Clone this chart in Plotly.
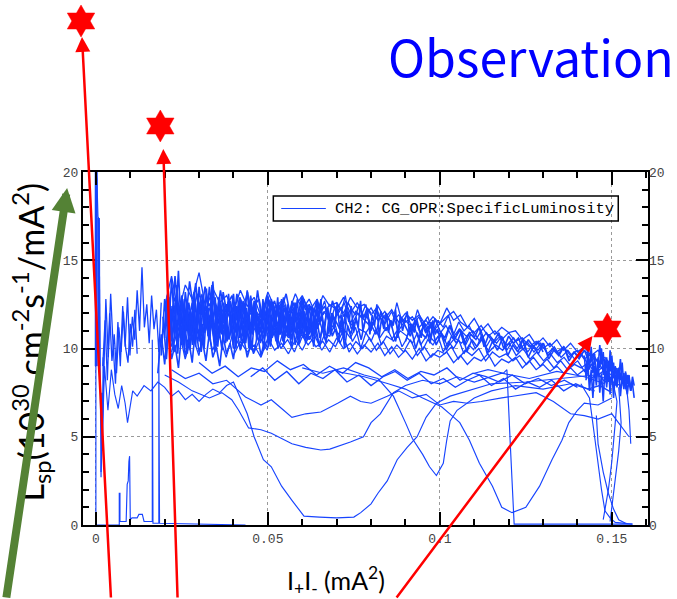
import numpy as np
import plotly.graph_objects as go

# ---------------- data: specific luminosity vs I+I- ----------------
# Noisy upper band, sampled runs: (start, end) in mA^2 and the values
RUN_A_SPAN = (0.020, 0.152)
RUN_A = [12.4, 14.1, 12.0, 13.6, 12.8, 14.3, 12.2, 13.4, 12.6, 13.0,
         12.1, 13.3, 12.4, 12.9, 11.8, 13.2, 12.3, 12.7, 12.0, 13.1,
         12.2, 12.8, 11.9, 13.0, 12.4, 12.6, 12.0, 12.9, 12.3, 12.5,
         11.9, 12.4, 11.7, 12.2, 11.5, 12.0, 11.6, 11.9, 11.3, 11.8,
         11.4, 12.3, 11.6, 11.9, 11.2, 11.7, 11.0, 11.4, 10.8, 11.2,
         10.9, 11.0, 10.5, 10.8, 10.2, 10.6, 10.1, 10.5, 9.9, 10.3,
         9.8, 10.1, 9.6, 9.9, 9.3, 9.0, 8.7]
RUN_B_SPAN = (0.021, 0.151)
RUN_B = [11.0, 12.9, 10.6, 12.4, 11.3, 13.1, 10.9, 12.2, 11.5, 12.8,
         11.2, 12.5, 10.9, 12.1, 11.6, 12.7, 11.0, 12.3, 11.4, 12.0,
         11.7, 12.4, 11.1, 12.1, 11.5, 11.9, 12.6, 11.3, 12.0, 11.6,
         11.2, 11.9, 11.4, 12.1, 11.0, 11.6, 11.2, 11.8, 10.9, 11.3,
         10.8, 11.3, 10.6, 11.1, 10.7, 11.0, 10.4, 10.9, 10.3, 10.7,
         10.2, 10.6, 10.0, 10.4, 9.8, 10.3, 9.7, 10.1, 9.5, 9.9,
         9.4, 9.7, 9.1, 9.5, 8.9, 8.6, 8.4]
RUN_C_SPAN = (0.019, 0.150)
RUN_C = [10.5, 12.0, 9.8, 11.6, 10.2, 12.3, 10.6, 11.9, 10.1, 11.4,
         10.7, 11.8, 10.3, 11.5, 10.9, 12.0, 10.5, 11.2, 10.8, 11.7,
         10.6, 11.4, 10.9, 11.8, 10.5, 11.3, 10.8, 11.6, 10.4, 11.1,
         10.9, 11.5, 10.6, 11.2, 10.4, 11.0, 10.7, 11.3, 10.2, 10.8,
         10.4, 10.9, 10.1, 10.6, 10.3, 10.8, 10.0, 10.5, 9.8, 10.2,
         9.9, 10.3, 9.6, 10.0, 9.4, 9.8, 9.3, 9.7, 9.2, 9.5,
         9.0, 9.3, 8.7, 9.1, 8.5, 8.8, 8.2]
RUN_D_SPAN = (0.022, 0.153)
RUN_D = [9.8, 11.2, 9.4, 10.8, 9.6, 11.5, 9.9, 10.7, 9.5, 10.9,
         10.1, 11.0, 9.7, 10.6, 9.9, 11.2, 10.0, 10.5, 9.8, 10.8,
         10.2, 10.7, 9.9, 10.5, 10.1, 10.9, 9.8, 10.4, 10.0, 10.6,
         9.9, 10.4, 9.7, 10.2, 9.8, 10.5, 9.6, 10.1, 9.5, 9.9,
         9.7, 10.1, 9.4, 9.9, 9.6, 10.0, 9.3, 9.8, 9.5, 9.7,
         9.3, 9.6, 9.1, 9.5, 9.0, 9.4, 8.9, 9.3, 8.8, 9.1,
         8.9, 9.2, 8.6, 8.9, 8.3, 8.0, 7.9]
RUN_E_SPAN = (0.030, 0.152)
RUN_E = [12.6, 11.4, 13.0, 11.9, 12.5, 11.6, 12.8, 11.7, 12.3, 11.5,
         12.9, 12.0, 12.6, 11.8, 12.4, 13.0, 12.1, 12.7, 11.9, 12.5,
         12.2, 12.9, 12.0, 12.6, 11.8, 12.3, 11.6, 12.1, 11.4, 11.9,
         11.5, 11.8, 11.2, 11.6, 11.0, 11.4, 11.8, 12.1, 11.5, 11.2,
         10.9, 11.3, 10.7, 11.0, 10.5, 10.9, 10.4, 10.6, 10.1, 10.4,
         10.0, 10.3, 9.8, 10.1, 9.6, 9.9, 9.4, 9.7, 9.2, 9.5,
         9.0, 8.8]
RUN_F_SPAN = (0.040, 0.150)
RUN_F = [9.6, 10.4, 9.8, 10.2, 9.5, 10.6, 9.9, 10.3, 9.7, 10.5,
         9.9, 10.7, 10.1, 10.4, 9.8, 10.6, 10.0, 10.3, 9.7, 10.2,
         9.8, 10.3, 9.6, 10.1, 9.5, 9.9, 9.4, 10.0, 9.3, 9.7,
         9.5, 9.8, 9.2, 9.6, 9.1, 9.5, 9.3, 9.7, 9.0, 9.4,
         9.2, 9.5, 8.9, 9.3, 8.8, 9.1, 8.7, 9.0, 8.6, 8.9,
         8.5, 8.8, 8.3, 8.6, 8.1, 8.4]

# Early part of the fills, finer sampling
EARLY_1_SPAN = (0.019, 0.065)
EARLY_1 = [9.6, 12.8, 10.4, 13.9, 11.1, 14.4, 10.2, 13.2, 11.5, 12.6,
           10.1, 13.5, 11.8, 12.4, 10.6, 13.8, 11.2, 12.9, 10.5, 12.2,
           11.7, 13.1, 10.8, 12.5, 11.4, 13.3, 10.9, 12.7, 11.6, 12.0,
           10.7, 13.0, 11.3, 12.3, 10.6, 12.8, 11.5, 12.1, 10.9, 12.6,
           11.2, 12.9, 11.0, 12.4, 10.8, 12.2, 11.4]
EARLY_2_SPAN = (0.0195, 0.066)
EARLY_2 = [11.8, 9.4, 12.3, 9.9, 13.0, 10.6, 12.1, 9.7, 11.9, 10.3,
           12.7, 9.8, 11.6, 10.9, 12.4, 10.2, 11.3, 9.9, 12.0, 10.5,
           11.8, 10.0, 12.6, 10.7, 11.5, 10.1, 12.2, 10.8, 11.7, 9.9,
           12.3, 10.4, 11.6, 10.2, 12.5, 10.6, 11.4, 10.0, 11.9, 10.5,
           12.1, 10.3, 11.7, 10.6, 11.2, 10.1, 11.5]
EARLY_3_SPAN = (0.021, 0.060)
EARLY_3 = [13.4, 11.0, 14.1, 11.9, 13.0, 10.8, 12.6, 11.4, 13.7, 12.0,
           12.9, 11.3, 13.5, 11.8, 12.4, 11.1, 13.2, 12.1, 12.7, 11.5,
           13.1, 11.7, 12.5, 11.0, 12.9, 11.6, 13.3, 11.9, 12.2, 11.4,
           12.8, 11.2, 12.6, 11.8, 12.3, 11.0, 12.7, 11.5, 12.1, 11.3]
EARLY_4_SPAN = (0.018, 0.050)
EARLY_4 = [8.6, 10.8, 9.1, 11.5, 9.4, 10.2, 8.9, 11.0, 9.6, 10.5,
           9.2, 11.3, 9.8, 10.4, 9.3, 10.9, 9.5, 10.1, 9.0, 10.7,
           9.7, 10.3, 9.4, 11.1, 9.9, 10.6, 9.5, 10.2, 9.8, 10.8,
           9.6, 10.4, 10.0]

# Densest stretch of the band
DENSE_1_SPAN = (0.020, 0.070)
DENSE_1 = [11.2, 13.0, 10.3, 12.4, 10.9, 13.6, 11.5, 10.2, 12.8, 11.0,
           12.1, 10.6, 13.2, 11.7, 10.4, 12.5, 11.3, 13.4, 10.8, 12.0,
           11.6, 10.5, 12.9, 11.1, 12.3, 10.7, 13.1, 11.4, 12.6, 10.9,
           11.8, 12.7, 10.6, 12.2, 11.3, 13.0, 10.8, 12.4, 11.5, 10.9,
           12.8, 11.2, 12.0, 10.7, 12.6, 11.4, 12.9, 10.8, 11.9, 11.1,
           12.5, 10.6, 12.1, 11.6, 12.8, 10.9, 12.2, 11.3, 11.8, 10.8,
           12.4, 11.0, 12.7, 11.5, 12.0, 10.9, 12.3, 11.4, 11.9, 11.1, 12.1]
DENSE_2_SPAN = (0.022, 0.075)
DENSE_2 = [10.1, 11.8, 9.7, 12.2, 10.5, 11.4, 9.9, 12.6, 10.8, 11.1,
           10.2, 12.0, 10.6, 11.7, 9.8, 12.3, 10.9, 11.3, 10.4, 11.9,
           10.0, 12.4, 10.7, 11.5, 10.3, 11.8, 9.9, 12.1, 10.8, 11.2,
           10.5, 11.9, 10.1, 11.6, 10.9, 12.0, 10.4, 11.3, 10.7, 11.8,
           10.2, 11.5, 10.8, 12.1, 10.5, 11.4, 10.1, 11.7, 10.6, 11.2,
           10.3, 11.9, 10.7, 11.1, 10.4, 11.6, 10.0, 11.3, 10.8, 11.5]
DENSE_3_SPAN = (0.025, 0.080)
DENSE_3 = [12.9, 11.6, 13.8, 12.2, 13.1, 11.9, 13.5, 12.4, 12.8, 11.8,
           13.3, 12.0, 12.6, 13.0, 11.7, 12.9, 12.3, 13.2, 11.9, 12.5,
           12.8, 11.6, 13.0, 12.2, 12.7, 11.8, 12.4, 13.1, 12.0, 12.6,
           11.7, 12.9, 12.2, 12.5, 11.9, 12.8, 12.1, 12.4, 11.6, 12.7,
           12.0, 12.3, 11.8, 12.6, 12.2, 11.9, 12.5, 11.7, 12.3, 12.0]
DENSE_4_SPAN = (0.060, 0.130)
DENSE_4 = [11.9, 10.8, 12.3, 11.2, 11.7, 10.6, 12.0, 11.4, 10.9, 12.2,
           11.1, 11.6, 10.5, 11.9, 11.3, 10.8, 12.1, 11.0, 11.5, 10.4,
           11.8, 11.2, 10.7, 11.6, 10.9, 11.4, 10.3, 11.7, 11.0, 10.6,
           11.3, 10.5, 11.1, 10.2, 10.9, 10.6, 11.2, 10.1, 10.8, 10.4,
           10.9, 10.0, 10.7, 10.3, 10.6, 9.9, 10.5, 10.1, 10.4, 9.8]
DENSE_5_SPAN = (0.090, 0.145)
DENSE_5 = [10.4, 11.3, 10.0, 10.9, 10.6, 11.5, 10.2, 10.8, 9.9, 10.7,
           10.3, 11.0, 9.8, 10.5, 10.1, 10.8, 9.7, 10.4, 9.9, 10.6,
           9.6, 10.2, 9.8, 10.5, 9.5, 10.1, 9.7, 10.3, 9.4, 9.9,
           9.6, 10.1, 9.3, 9.8, 9.5, 9.9, 9.2, 9.7]
DENSE_6_SPAN = (0.020, 0.058)
DENSE_6 = [10.6, 12.4, 11.0, 12.9, 10.4, 11.8, 12.6, 10.9, 12.2, 11.4,
           13.0, 10.7, 11.9, 12.5, 10.8, 12.1, 11.3, 12.8, 10.5, 11.7,
           12.4, 11.0, 12.7, 10.9, 11.6, 12.3, 10.6, 12.0, 11.5, 12.9,
           11.1, 10.7, 12.2, 11.4, 12.6, 10.8, 11.9, 12.4, 11.2, 10.9,
           12.5, 11.6, 12.1, 10.6, 11.8, 12.7, 11.0, 12.3, 11.5, 10.8,
           12.0, 11.3, 12.6, 10.9, 11.7, 12.2, 11.1, 12.5, 10.7, 11.9,
           12.3, 11.2, 10.9, 12.1, 11.6, 12.4, 10.8, 11.5, 12.0, 11.3,
           12.2, 10.9, 11.8, 11.4, 12.1, 11.0]
DENSE_7_SPAN = (0.023, 0.062)
DENSE_7 = [11.6, 10.3, 12.0, 10.8, 11.3, 9.9, 12.5, 10.6, 11.1, 10.2,
           11.8, 10.9, 12.3, 10.4, 11.4, 10.0, 11.9, 10.7, 11.2, 13.6,
           10.5, 11.7, 10.1, 11.5, 10.8, 12.1, 10.3, 11.0, 10.6, 11.9,
           10.2, 11.4, 10.9, 12.2, 10.4, 11.1, 10.7, 11.6, 10.0, 11.3,
           10.8, 12.0, 10.5, 11.2, 10.3, 11.7, 10.9, 11.4, 10.1, 11.8,
           10.6, 11.0, 10.4, 11.5, 10.8, 12.1, 10.2, 11.3, 10.7, 11.6,
           10.5, 11.1, 10.9, 11.4, 10.3, 11.7, 10.6, 11.2, 10.8, 11.0]
DENSE_8_SPAN = (0.060, 0.100)
DENSE_8 = [12.0, 10.9, 12.5, 11.3, 11.8, 10.7, 12.2, 11.5, 12.8, 11.0,
           11.7, 12.3, 10.8, 12.0, 11.4, 12.6, 11.1, 11.9, 10.6, 12.1,
           11.5, 12.4, 10.9, 11.8, 11.2, 12.7, 11.0, 11.6, 12.2, 10.8,
           11.9, 11.3, 12.5, 10.7, 11.7, 11.1, 12.0, 10.9, 11.6, 11.3,
           12.2, 10.6, 11.8, 11.0, 11.5, 12.1, 10.8, 11.4, 10.9, 11.7,
           11.2, 10.6, 11.5, 10.9, 11.3, 10.5, 11.6, 10.8, 11.1, 10.7]

# Middle and late extra runs
MID_1_SPAN = (0.050, 0.110)
MID_1 = [11.6, 12.6, 11.2, 12.9, 11.8, 12.3, 11.1, 12.8, 11.5, 12.2,
         11.9, 12.7, 11.3, 12.4, 11.7, 13.0, 11.4, 12.1, 11.8, 12.5,
         11.0, 12.3, 11.6, 12.0, 11.2, 12.6, 11.5, 11.9, 11.1, 12.2,
         11.4, 11.8, 10.9, 11.6, 11.2, 11.9, 10.8, 11.5, 11.0, 11.3, 10.7]
MID_2_SPAN = (0.050, 0.110)
MID_2 = [10.4, 11.3, 10.0, 11.0, 10.6, 11.5, 10.2, 10.9, 10.5, 11.2,
         10.1, 10.8, 10.7, 11.4, 10.3, 11.0, 10.6, 11.2, 10.0, 10.9,
         10.4, 11.1, 10.2, 10.7, 10.5, 11.0, 10.1, 10.6, 10.3, 10.9,
         9.9, 10.5, 10.2, 10.7, 9.8, 10.4, 10.0, 10.5, 9.7, 10.2, 9.9]
LATE_1_SPAN = (0.100, 0.145)
LATE_1 = [11.0, 10.4, 11.3, 10.6, 11.1, 10.2, 10.8, 10.5, 11.0, 10.1,
          10.6, 10.3, 10.7, 9.9, 10.4, 10.0, 10.5, 9.8, 10.2, 9.9,
          10.3, 9.6, 10.0, 9.7, 10.1, 9.5, 9.8, 9.4, 9.9, 9.6, 9.7]
LOWBAND_1_SPAN = (0.045, 0.150)
LOWBAND_1 = [8.4, 8.9, 8.2, 8.7, 8.0, 8.6, 8.3, 8.8, 8.1, 8.5,
             7.9, 8.4, 8.7, 8.2, 8.6, 8.0, 8.3, 7.8, 8.2, 8.5,
             7.9, 8.3, 7.7, 8.1, 7.8, 8.2, 7.6, 8.0, 7.7, 7.9, 7.5]
LOWBAND_2_SPAN = (0.030, 0.140)
LOWBAND_2 = [9.2, 8.6, 9.0, 8.4, 8.9, 8.7, 9.3, 8.8, 9.1, 8.5,
             9.0, 8.6, 9.2, 8.9, 8.4, 8.8, 8.3, 8.7, 8.5, 8.9,
             8.2, 8.6, 8.4, 8.1, 8.5, 8.0, 8.3, 7.9, 8.2, 7.8]

# End-of-fill cluster
CLUSTER_1_SPAN = (0.142, 0.156)
CLUSTER_1 = [9.6, 8.4, 9.9, 8.8, 10.1, 8.6, 9.7, 8.2, 9.5, 8.9,
             10.0, 8.5, 9.4, 8.0, 9.1, 8.7, 9.6, 8.3, 9.0, 7.8,
             8.9, 8.2, 9.2, 7.9, 8.6, 8.0, 8.5, 7.6, 8.1]
CLUSTER_2_SPAN = (0.1425, 0.1565)
CLUSTER_2 = [8.2, 9.3, 7.6, 8.8, 7.2, 9.0, 7.9, 9.4, 7.5, 8.6,
             7.0, 8.9, 7.8, 9.3, 7.4, 8.8, 7.2, 8.5, 7.9, 8.9,
             7.3, 8.4, 7.7, 8.7, 7.4, 8.3, 7.8, 8.0, 7.2]
CLUSTER_3_SPAN = (0.146, 0.1565)
CLUSTER_3 = [8.9, 10.2, 9.1, 9.8, 8.4, 9.5, 8.1, 9.9, 8.6, 9.2,
             7.9, 8.8, 8.3, 9.4, 8.0, 8.6, 7.7, 8.5, 8.1, 7.6, 8.4, 7.9]

# Injection start (low current)
START_1_SPAN = (0.0015, 0.019)
START_1 = [3.0, 8.5, 12.8, 9.5, 13.1, 10.2, 8.0, 11.5, 9.0, 12.4,
           10.1, 12.9, 9.6, 11.8, 10.5, 13.3, 11.0, 14.6, 11.2, 12.5,
           10.3, 13.0, 11.1, 12.2, 9.8, 12.6]
START_2_SPAN = (0.002, 0.012)
START_2 = [9.0, 11.6, 8.2, 12.0, 9.3, 10.8, 8.6, 11.2, 9.8, 12.1,
           10.0, 9.2, 11.4, 10.1, 12.2, 9.7]

# Individual runs that fall off the band (x, y pairs)
DIP_U_X = [0.0018, 0.0025, 0.0035, 0.0045, 0.0055, 0.0065, 0.0075, 0.0085, 0.0092,
           0.0100, 0.0107, 0.012, 0.014, 0.016, 0.018, 0.020, 0.022, 0.024, 0.026,
           0.028, 0.030, 0.032, 0.034, 0.036, 0.038, 0.040, 0.042, 0.044, 0.046,
           0.0487, 0.051, 0.054, 0.057, 0.0605, 0.065, 0.070, 0.075, 0.077, 0.080,
           0.082, 0.0847, 0.0876, 0.0905, 0.0934, 0.096, 0.099, 0.103, 0.108, 0.115,
           0.125, 0.135, 0.145, 0.150]
DIP_U_Y = [4.2, 9.0, 6.5, 8.8, 7.4, 6.6, 7.9, 6.9, 5.8,
           6.9, 7.6, 7.3, 7.9, 7.6, 8.1, 7.8, 7.3, 7.6, 7.1,
           7.4, 7.0, 7.4, 7.7, 7.5, 7.9, 8.1, 7.2, 6.3, 5.0,
           3.7, 3.3, 2.2, 1.4, 0.5, 0.45, 0.4, 0.45, 0.7, 1.2,
           1.8, 2.5, 3.7, 4.4, 5.0, 6.1, 6.9, 7.3, 7.6, 8.0,
           8.1, 8.3, 8.5, 8.2]
DIP_SHALLOW_X = [0.020, 0.024, 0.028, 0.033, 0.0366, 0.0395, 0.0415, 0.0444, 0.048,
                 0.051, 0.054, 0.057, 0.061, 0.0654, 0.068, 0.0712, 0.074, 0.0778,
                 0.080, 0.0827, 0.0865, 0.090, 0.095, 0.100, 0.105, 0.110, 0.118,
                 0.126, 0.134, 0.142, 0.148]
DIP_SHALLOW_Y = [8.5, 8.1, 7.6, 7.2, 7.5, 7.1, 6.5, 5.5, 5.4,
                 5.2, 4.9, 4.6, 4.4, 4.25, 4.3, 4.5, 4.7, 5.0,
                 5.8, 6.3, 7.5, 7.9, 8.2, 8.0, 8.4, 8.1, 8.6,
                 8.3, 8.7, 8.4, 8.0]
DIP_SIX_X = [0.022, 0.026, 0.030, 0.034, 0.038, 0.0435, 0.048, 0.051, 0.054, 0.057,
             0.061, 0.0654, 0.0703, 0.074, 0.077, 0.080, 0.0847, 0.088, 0.092, 0.096,
             0.100, 0.104, 0.108, 0.112, 0.118, 0.124, 0.128, 0.133, 0.138, 0.142,
             0.146, 0.150, 0.153, 0.155]
DIP_SIX_Y = [8.8, 8.3, 8.6, 8.0, 8.2, 7.25, 6.8, 7.1, 6.6, 6.1,
             6.3, 6.4, 6.9, 7.3, 7.0, 6.9, 7.3, 7.6, 7.2, 7.4,
             6.8, 7.0, 6.9, 7.0, 7.2, 7.4, 7.5, 7.0, 6.3, 6.2,
             6.0, 6.3, 5.5, 5.0]
DIP_V_X = [0.060, 0.066, 0.072, 0.078, 0.082, 0.0865, 0.090, 0.092, 0.095, 0.097,
           0.099, 0.101, 0.102, 0.103, 0.105, 0.110, 0.115, 0.122, 0.130, 0.138, 0.145]
DIP_V_Y = [8.9, 8.6, 8.9, 8.5, 8.3, 7.3, 5.8, 4.9, 4.0, 3.3,
           2.8, 3.5, 4.8, 5.9, 6.5, 7.2, 7.6, 7.9, 7.7, 8.0, 7.6]
DIP_DEEP_X = [0.070, 0.078, 0.085, 0.090, 0.095, 0.1005, 0.1035, 0.1058, 0.1086, 0.1115,
              0.1153, 0.118, 0.121, 0.125, 0.129, 0.1326, 0.1355, 0.1375, 0.140, 0.142,
              0.146, 0.150]
DIP_DEEP_Y = [8.7, 8.4, 8.0, 7.7, 7.2, 6.7, 6.2, 5.8, 4.8, 3.5,
              2.2, 1.0, 0.7, 1.0, 2.2, 3.7, 4.8, 5.8, 6.5, 6.9,
              6.8, 7.2]
ABORT_X = [0.110, 0.114, 0.1185, 0.1195, 0.1205, 0.1216, 0.130, 0.140, 0.148, 0.156]
ABORT_Y = [8.6, 8.8, 8.6, 8.8, 4.5, 0.05, 0.05, 0.05, 0.05, 0.05]
DROP_1_X = [0.141, 0.1435, 0.145, 0.146, 0.147, 0.148, 0.1495, 0.151, 0.156]
DROP_1_Y = [8.0, 7.2, 5.0, 3.4, 2.0, 0.8, 0.4, 0.15, 0.05]
DROP_2_X = [0.150, 0.1515, 0.151, 0.150, 0.149, 0.148, 0.1475]
DROP_2_Y = [8.4, 7.0, 5.8, 3.6, 2.0, 0.7, 0.3]
DROP_3_X = [0.152, 0.1527, 0.152, 0.151, 0.150, 0.1495]
DROP_3_Y = [7.8, 5.8, 4.2, 2.6, 1.2, 0.2]
DROP_4_X = [0.1535, 0.1545, 0.155, 0.1553, 0.1555]
DROP_4_Y = [8.2, 7.4, 6.5, 5.2, 4.6]
DROP_5_X = [0.1455, 0.146, 0.1475, 0.149, 0.1505, 0.152, 0.154]
DROP_5_Y = [6.2, 4.6, 3.0, 1.8, 0.9, 0.3, 0.1]

# Spike at zero current and the low-current baseline
SPIKE_X = [0.0000, 0.0000, 0.0003, 0.0006, 0.0009, 0.0011, 0.0013, 0.0015, 0.0017,
           0.0019, 0.0021, 0.0023]
SPIKE_Y = [0.0, 20.0, 19.6, 17.5, 17.3, 12.0, 6.0, 2.7, 7.5, 4.4, 9.5, 8.6]
SPIKE_THICK_X = [0.0001, 0.0001]
SPIKE_THICK_Y = [20.0, 9.0]
SPIKE_THICK2_X = [0.0008, 0.0009, 0.0010]
SPIKE_THICK2_Y = [17.4, 13.0, 9.0]
BASE_X = [0.0, 0.0068, 0.0068, 0.0070, 0.0070, 0.0088, 0.0091, 0.0094, 0.0096,
          0.0098, 0.0100, 0.0105, 0.0120, 0.0125, 0.0135, 0.0140, 0.0164, 0.0164,
          0.0166, 0.0166, 0.0183, 0.0183, 0.0185, 0.0185, 0.0435]
BASE_Y = [0, 0, 1.8, 1.8, 0.2, 0.2, 2.3, 2.5, 3.6,
          3.9, 0.3, 0.4, 0.4, 0.6, 0.6, 0.2, 0.2, 10.5,
          10.5, 0.1, 0.1, 10.0, 10.0, 0.1, 0]

SERIES_NAME = "CH2: CG_OPR:SpecificLuminosity"
LINE_BLUE = "#1744ff"

# ---------------- figure ----------------
W, H = 677, 599
PL, PR, PT, PB = 83, 653, 172, 525   # plot area in pixels


def px(xp):
    return (xp - PL) / (PR - PL)


def py(yp):
    return (PB - yp) / (PB - PT)


fig = go.Figure()


def add_line(x, y, width=1.3):
    fig.add_trace(go.Scatter(x=x, y=y, mode="lines",
                             line=dict(color=LINE_BLUE, width=width),
                             showlegend=False, hoverinfo="skip", name=SERIES_NAME))


band_runs = [
    (RUN_A_SPAN, RUN_A), (RUN_B_SPAN, RUN_B), (RUN_C_SPAN, RUN_C), (RUN_D_SPAN, RUN_D),
    (RUN_E_SPAN, RUN_E), (RUN_F_SPAN, RUN_F),
    (MID_1_SPAN, MID_1), (MID_2_SPAN, MID_2),
    (LATE_1_SPAN, LATE_1), (LOWBAND_1_SPAN, LOWBAND_1), (LOWBAND_2_SPAN, LOWBAND_2),
    (START_1_SPAN, START_1), (START_2_SPAN, START_2),
]
dense_runs = [
    (EARLY_1_SPAN, EARLY_1), (EARLY_2_SPAN, EARLY_2), (EARLY_3_SPAN, EARLY_3),
    (EARLY_4_SPAN, EARLY_4),
    (DENSE_1_SPAN, DENSE_1), (DENSE_2_SPAN, DENSE_2), (DENSE_3_SPAN, DENSE_3),
    (DENSE_4_SPAN, DENSE_4), (DENSE_5_SPAN, DENSE_5), (DENSE_6_SPAN, DENSE_6),
    (DENSE_7_SPAN, DENSE_7), (DENSE_8_SPAN, DENSE_8),
    (CLUSTER_1_SPAN, CLUSTER_1), (CLUSTER_2_SPAN, CLUSTER_2), (CLUSTER_3_SPAN, CLUSTER_3),
]
for (x0, x1), vals in band_runs:
    add_line(np.linspace(x0, x1, len(vals)), vals)
for (x0, x1), vals in dense_runs:
    add_line(np.linspace(x0, x1, len(vals)), vals, width=1.6)

paired = [
    (DIP_U_X, DIP_U_Y), (DIP_SHALLOW_X, DIP_SHALLOW_Y), (DIP_SIX_X, DIP_SIX_Y),
    (DIP_V_X, DIP_V_Y), (DIP_DEEP_X, DIP_DEEP_Y), (ABORT_X, ABORT_Y),
    (DROP_1_X, DROP_1_Y), (DROP_2_X, DROP_2_Y), (DROP_3_X, DROP_3_Y),
    (DROP_4_X, DROP_4_Y), (DROP_5_X, DROP_5_Y),
    (SPIKE_X, SPIKE_Y), (BASE_X, BASE_Y),
]
for xs, ys in paired:
    add_line(xs, ys, width=1.15)
add_line(SPIKE_THICK_X, SPIKE_THICK_Y, width=3)
add_line(SPIKE_THICK2_X, SPIKE_THICK2_Y, width=2.5)

# right-hand axis carries its own labels
fig.add_trace(go.Scatter(x=[None], y=[None], yaxis="y2", showlegend=False, hoverinfo="skip"))

tick_font = dict(family="Liberation Mono", size=13, color="#444444")
common = dict(showline=True, linecolor="black", linewidth=2, ticks="inside",
              tickcolor="black", tickwidth=2, zeroline=False, tickfont=tick_font,
              showgrid=True, gridcolor="#9a9a9a", griddash="dot", gridwidth=1)

fig.update_layout(
    width=W, height=H,
    margin=dict(l=PL, r=W - PR, t=PT, b=H - PB, pad=0),
    paper_bgcolor="white", plot_bgcolor="white",
    showlegend=False,
    xaxis=dict(range=[(PL - 96) / 3470, (PR - 96) / 3470], tick0=0, dtick=0.05,
               ticklen=13, mirror="ticks",
               minor=dict(ticks="inside", ticklen=6, tickwidth=1.5, dtick=0.01,
                          tick0=0, tickcolor="black", showgrid=False),
               **common),
    yaxis=dict(range=[0, 20], tick0=0, dtick=5, ticklen=12, mirror="ticks",
               minor=dict(ticks="inside", ticklen=6, tickwidth=1.5, dtick=1,
                          tick0=0, tickcolor="black", showgrid=False),
               **common),
    yaxis2=dict(range=[0, 20], tick0=0, dtick=5, overlaying="y", side="right",
                showgrid=False, zeroline=False, showline=False, ticks="",
                tickfont=tick_font),
)

# legend box drawn as a frame, sample line and label
fig.add_shape(type="rect", xref="paper", yref="paper",
              x0=px(275), x1=px(623), y0=py(221), y1=py(196),
              line=dict(color="black", width=1.5), fillcolor="rgba(0,0,0,0)")
fig.add_shape(type="line", xref="paper", yref="paper",
              x0=px(283), x1=px(328), y0=py(208.5), y1=py(208.5),
              line=dict(color=LINE_BLUE, width=1.2))
fig.add_annotation(x=px(335), y=py(208.5), xref="paper", yref="paper",
                   xanchor="left", yanchor="middle", showarrow=False,
                   text=SERIES_NAME,
                   font=dict(family="Liberation Mono", size=15.5, color="black"))

# axis titles
fig.add_annotation(x=px(30), y=py(342), xref="paper", yref="paper",
                   xanchor="center", yanchor="middle",
                   textangle=-90, showarrow=False,
                   text="L<sub>sp</sub>(10<sup>30</sup> cm<sup>-2</sup>s<sup>-1</sup>/mA<sup>2</sup>)",
                   font=dict(family="Lato", size=34, color="black"))
fig.add_annotation(x=px(338), y=py(580), xref="paper", yref="paper",
                   xanchor="center", yanchor="middle", showarrow=False,
                   text="I<sub>+</sub>I<sub>-</sub> (mA<sup>2</sup>)",
                   font=dict(family="Lato", size=25, color="black"))

# heading
fig.add_annotation(x=px(535), y=py(55), xref="paper", yref="paper",
                   xanchor="center", yanchor="middle",
                   showarrow=False, text="Observation",
                   font=dict(family="Noto Sans CJK JP", size=50, color="#0000ff"))


# pointers
def pointer(tip, tail, color, width, size):
    fig.add_annotation(x=px(tip[0]), y=py(tip[1]), xref="paper", yref="paper",
                       ax=tail[0] - tip[0], ay=tail[1] - tip[1],
                       axref="pixel", ayref="pixel", text="", showarrow=True,
                       arrowhead=2, arrowsize=size, arrowwidth=width,
                       arrowcolor=color, standoff=0, startstandoff=0)


pointer((82, 37), (111, 610), "#ff0000", 2.5, 1.2)
pointer((164, 149), (178.3, 610), "#ff0000", 2.5, 1.2)
pointer((597, 336), (400, 610), "#ff0000", 2.5, 1.2)
pointer((67, 188), (6, 610), "#548235", 8, 0.6)


def hexagram(cx, cy, r_out):
    r_in = r_out / np.sqrt(3)
    pts = []
    for k in range(12):
        ang = np.deg2rad(90 + 30 * k)
        r = r_out if k % 2 == 0 else r_in
        pts.append((px(cx + r * np.cos(ang)), py(cy - r * np.sin(ang))))
    return "M " + " L ".join(f"{a:.5f},{b:.5f}" for a, b in pts) + " Z"


for cx, cy in [(81, 21), (161, 126), (612, 329)]:
    fig.add_shape(type="path", xref="paper", yref="paper", path=hexagram(cx, cy, 16),
                  fillcolor="#ff0000", line=dict(color="#ff0000", width=0.5))

fig.write_html("out.html")
